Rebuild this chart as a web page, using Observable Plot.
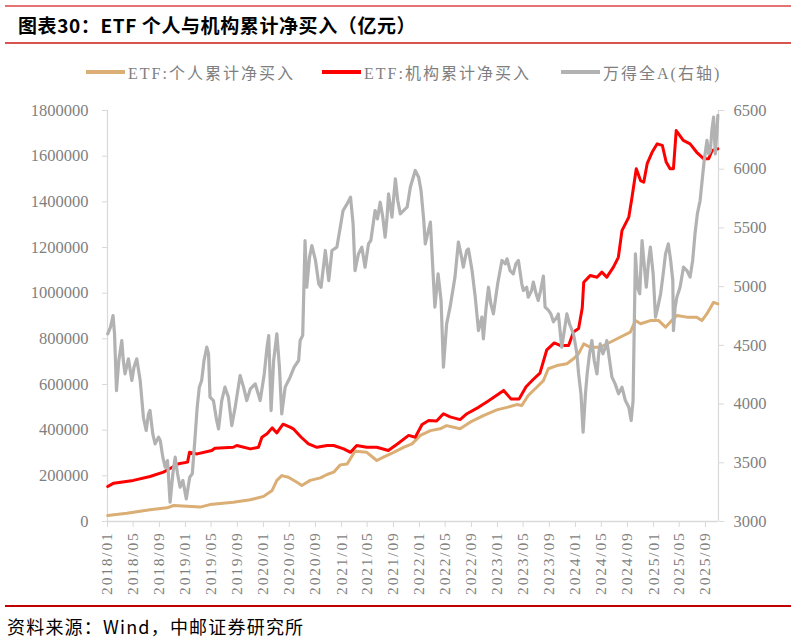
<!DOCTYPE html>
<html>
<head>
<meta charset="utf-8">
<script src="https://cdn.jsdelivr.net/npm/d3@7"></script>
<script src="https://cdn.jsdelivr.net/npm/@observablehq/plot@0.6"></script>
<style>
  html, body { margin: 0; padding: 0; background: #fff; }
  #page { position: relative; width: 796px; height: 641px; overflow: hidden; background: #fff;
          font-family: "Noto Sans CJK SC", sans-serif; }
  .bar { position: absolute; left: 5px; width: 786px; }
  #title { position: absolute; left: 18px; top: 11px; font-size: 19px; font-weight: 700; color: #000;
           line-height: 28px; white-space: nowrap; letter-spacing: 0.6px; }
  .item { position: absolute; top: 61px; height: 22px; display: flex; align-items: center; white-space: nowrap;
          font-family: "Liberation Serif", "Noto Sans CJK SC", serif; font-size: 16px; letter-spacing: 2px; color: #7f7f7f; }
  .sw { display: inline-block; width: 39px; height: 3.5px; margin-right: 3px; }
  #chart { position: absolute; left: 0; top: 90px; }
  #source { position: absolute; left: 7px; top: 612px; font-size: 18px; color: #000; line-height: 28px;
            white-space: nowrap; letter-spacing: 1.2px; }
  g[aria-label="x-axis tick label"] text { letter-spacing: 1.8px; }
</style>
</head>
<body>
<div id="page">
  <div class="bar" style="top:5px;height:1.5px;background:#e57373;"></div>
  <div id="title">图表30：ETF 个人与机构累计净买入（亿元）</div>
  <div class="bar" style="top:42px;height:2px;background:#d9534f;"></div>
  <div id="legend"></div>
  <div id="chart"></div>
  <div class="bar" style="top:604.5px;height:2px;background:#c00000;"></div>
  <div id="source">资料来源：Wind，中邮证券研究所</div>
</div>
<script>
// ETF cumulative net buying by individuals (亿元, left axis)
const personalNet = [
  ["2018-01-02", 26000], ["2018-04-02", 36000], ["2018-07-19", 51000], ["2018-10-06", 60000],
  ["2018-11-07", 70000], ["2019-01-09", 67000], ["2019-03-10", 63000], ["2019-04-26", 74000],
  ["2019-08-13", 84000], ["2019-11-01", 95000], ["2020-01-02", 110000], ["2020-02-11", 136000],
  ["2020-03-04", 180000], ["2020-03-27", 201000], ["2020-04-27", 194000], ["2020-06-06", 172000],
  ["2020-06-29", 158000], ["2020-08-07", 180000], ["2020-09-24", 191000], ["2020-10-25", 206000],
  ["2020-11-25", 216000], ["2020-12-26", 248000], ["2021-01-27", 252000], ["2021-03-05", 308000],
  ["2021-04-29", 303000], ["2021-06-15", 267000], ["2021-07-16", 282000], ["2021-09-02", 303000],
  ["2021-10-18", 325000], ["2021-11-27", 340000], ["2022-01-05", 377000], ["2022-02-21", 398000],
  ["2022-04-07", 406000], ["2022-05-08", 420000], ["2022-07-10", 406000], ["2022-08-26", 435000],
  ["2022-10-27", 464000], ["2022-12-29", 489000], ["2023-02-15", 500000], ["2023-04-02", 512000],
  ["2023-04-25", 508000], ["2023-05-25", 552000], ["2023-07-04", 588000], ["2023-08-04", 617000],
  ["2023-08-27", 669000], ["2023-10-06", 683000], ["2023-11-22", 691000], ["2023-12-23", 713000],
  ["2024-01-16", 735000], ["2024-02-09", 778000], ["2024-03-10", 763000], ["2024-04-26", 763000],
  ["2024-06-12", 785000], ["2024-07-28", 807000], ["2024-09-14", 829000], ["2024-10-08", 880000],
  ["2024-11-01", 866000], ["2024-12-17", 880000], ["2025-01-25", 880000], ["2025-02-26", 851000],
  ["2025-03-27", 880000], ["2025-04-20", 902000], ["2025-06-06", 895000], ["2025-07-22", 895000],
  ["2025-08-15", 880000], ["2025-09-08", 910000], ["2025-10-09", 960000], ["2025-10-29", 953000]
];

// ETF cumulative net buying by institutions (亿元, left axis)
const institutionNet = [
  ["2018-01-02", 153000], ["2018-01-30", 168000], ["2018-05-02", 180000], ["2018-07-19", 197000],
  ["2018-09-20", 216000], ["2018-10-21", 232000], ["2018-11-30", 253000], ["2019-01-11", 260000],
  ["2019-01-20", 303000], ["2019-02-25", 296000], ["2019-05-04", 311000], ["2019-05-19", 321000],
  ["2019-08-13", 325000], ["2019-08-29", 333000], ["2019-11-01", 318000], ["2019-12-09", 325000],
  ["2019-12-25", 369000], ["2020-01-18", 384000], ["2020-02-11", 410000], ["2020-03-04", 388000],
  ["2020-04-02", 426000], ["2020-05-05", 413000], ["2020-05-20", 406000], ["2020-06-26", 369000],
  ["2020-07-30", 340000], ["2020-09-08", 325000], ["2020-10-25", 333000], ["2020-11-25", 333000],
  ["2021-01-11", 318000], ["2021-02-12", 303000], ["2021-03-13", 333000], ["2021-04-29", 325000],
  ["2021-06-15", 325000], ["2021-08-08", 311000], ["2021-09-24", 343000], ["2021-11-11", 377000],
  ["2021-12-12", 369000], ["2022-01-13", 425000], ["2022-02-13", 442000], ["2022-03-22", 440000],
  ["2022-04-23", 472000], ["2022-05-24", 458000], ["2022-07-10", 446000], ["2022-08-11", 472000],
  ["2022-10-04", 500000], ["2022-11-19", 528000], ["2023-01-01", 555000], ["2023-01-30", 574000],
  ["2023-03-05", 537000], ["2023-04-12", 537000], ["2023-05-15", 590000], ["2023-06-17", 622000],
  ["2023-07-19", 650000], ["2023-08-20", 752000], ["2023-09-24", 782000], ["2023-10-21", 771000],
  ["2023-11-30", 771000], ["2023-12-23", 830000], ["2024-01-16", 845000], ["2024-02-02", 935000],
  ["2024-02-09", 1048000], ["2024-03-10", 1077000], ["2024-04-11", 1070000], ["2024-05-04", 1092000],
  ["2024-05-27", 1070000], ["2024-06-27", 1114000], ["2024-07-20", 1157000], ["2024-08-06", 1274000],
  ["2024-09-07", 1333000], ["2024-09-22", 1420000], ["2024-10-12", 1545000], ["2024-11-01", 1493000],
  ["2024-11-16", 1486000], ["2024-12-02", 1567000], ["2024-12-25", 1617000], ["2025-01-18", 1654000],
  ["2025-02-11", 1647000], ["2025-03-01", 1574000], ["2025-03-19", 1545000], ["2025-04-04", 1545000],
  ["2025-04-17", 1712000], ["2025-05-20", 1669000], ["2025-06-21", 1654000], ["2025-07-22", 1617000],
  ["2025-08-23", 1589000], ["2025-09-16", 1589000], ["2025-10-02", 1625000], ["2025-10-29", 1632000]
];

// Wind All A index (right axis)
const windAllA = [
  ["2018-01-02", 4598], ["2018-01-15", 4655], ["2018-01-27", 4754], ["2018-02-03", 4598], ["2018-02-12", 4115],
  ["2018-02-23", 4371], ["2018-03-09", 4541], ["2018-03-16", 4371], ["2018-03-24", 4257], ["2018-04-09", 4385],
  ["2018-04-25", 4201], ["2018-05-05", 4314], ["2018-05-18", 4385], ["2018-06-03", 4201], ["2018-06-18", 3888],
  ["2018-07-01", 3775], ["2018-07-12", 3917], ["2018-07-19", 3945], ["2018-08-01", 3746], ["2018-08-12", 3661],
  ["2018-08-28", 3718], ["2018-09-05", 3690], ["2018-09-17", 3548], ["2018-09-28", 3463], ["2018-10-09", 3519],
  ["2018-10-21", 3164], ["2018-11-03", 3406], ["2018-11-14", 3548], ["2018-11-25", 3406], ["2018-12-07", 3292],
  ["2018-12-20", 3349], ["2019-01-05", 3193], ["2019-01-21", 3377], ["2019-02-02", 3406], ["2019-02-14", 3690],
  ["2019-02-25", 3974], ["2019-03-07", 4144], ["2019-03-18", 4201], ["2019-03-29", 4371], ["2019-04-11", 4485],
  ["2019-04-19", 4428], ["2019-04-26", 4059], ["2019-05-12", 4030], ["2019-05-27", 3860], ["2019-06-05", 3789],
  ["2019-06-20", 4030], ["2019-07-05", 4144], ["2019-07-21", 4059], ["2019-08-06", 3817], ["2019-08-22", 3974],
  ["2019-09-14", 4243], ["2019-09-30", 4144], ["2019-10-15", 4030], ["2019-11-01", 4130], ["2019-11-24", 4172],
  ["2019-12-17", 4030], ["2020-01-05", 4257], ["2020-01-18", 4485], ["2020-01-26", 4584], ["2020-02-06", 3945],
  ["2020-02-18", 4371], ["2020-03-04", 4598], ["2020-03-16", 4314], ["2020-03-27", 3917], ["2020-04-12", 4144],
  ["2020-05-05", 4229], ["2020-05-24", 4314], ["2020-06-14", 4371], ["2020-06-21", 4541], ["2020-07-03", 4584],
  ["2020-07-14", 5393], ["2020-07-22", 4995], ["2020-08-04", 5251], ["2020-08-15", 5350], ["2020-09-01", 5223],
  ["2020-09-16", 5024], ["2020-09-27", 4995], ["2020-10-17", 5308], ["2020-11-02", 5052], ["2020-11-17", 5308],
  ["2020-12-10", 5336], ["2020-12-26", 5506], ["2021-01-08", 5648], ["2021-01-27", 5705], ["2021-02-12", 5762],
  ["2021-02-24", 5535], ["2021-03-05", 5137], ["2021-03-21", 5279], ["2021-04-06", 5336], ["2021-04-21", 5166],
  ["2021-05-07", 5364], ["2021-05-18", 5393], ["2021-06-07", 5648], ["2021-06-18", 5577], ["2021-07-01", 5719],
  ["2021-07-13", 5592], ["2021-07-24", 5421], ["2021-08-02", 5592], ["2021-08-09", 5790], ["2021-08-25", 5592],
  ["2021-09-10", 5918], ["2021-09-21", 5734], ["2021-10-03", 5620], ["2021-10-18", 5648], ["2021-11-04", 5677],
  ["2021-11-19", 5847], ["2021-12-12", 5989], ["2021-12-28", 5932], ["2022-01-08", 5819], ["2022-01-21", 5563],
  ["2022-01-28", 5364], ["2022-02-21", 5549], ["2022-03-04", 5166], ["2022-03-14", 4825], ["2022-03-29", 5109],
  ["2022-04-12", 4882], ["2022-04-23", 4314], ["2022-05-08", 4683], ["2022-05-24", 4825], ["2022-06-16", 5081],
  ["2022-07-02", 5379], ["2022-07-17", 5251], ["2022-07-25", 5166], ["2022-08-10", 5308], ["2022-08-18", 5322],
  ["2022-09-04", 5137], ["2022-09-19", 4910], ["2022-10-04", 4626], ["2022-10-20", 4740], ["2022-10-27", 4555],
  ["2022-11-09", 4825], ["2022-11-20", 4995], ["2022-12-01", 4853], ["2022-12-13", 4768], ["2023-01-02", 5024],
  ["2023-01-22", 5223], ["2023-02-07", 5194], ["2023-02-15", 5237], ["2023-03-01", 5137], ["2023-03-16", 5109],
  ["2023-03-28", 5194], ["2023-04-09", 5223], ["2023-04-25", 5024], ["2023-05-02", 4967], ["2023-05-18", 4995],
  ["2023-05-25", 4910], ["2023-06-10", 4967], ["2023-06-18", 5038], ["2023-07-01", 4939], ["2023-07-11", 4882],
  ["2023-07-22", 4967], ["2023-08-04", 5090], ["2023-08-12", 4825], ["2023-08-27", 4800], ["2023-09-08", 4768],
  ["2023-09-20", 4700], ["2023-10-06", 4740], ["2023-10-13", 4768], ["2023-10-29", 4484], ["2023-11-22", 4768],
  ["2023-12-05", 4680], ["2023-12-23", 4598], ["2024-01-08", 4428], ["2024-01-16", 4257], ["2024-01-27", 4087],
  ["2024-02-06", 3760], ["2024-02-17", 4087], ["2024-02-25", 4257], ["2024-03-07", 4428], ["2024-03-18", 4541],
  ["2024-03-29", 4371], ["2024-04-11", 4257], ["2024-04-19", 4428], ["2024-04-26", 4513], ["2024-05-09", 4428],
  ["2024-05-20", 4484], ["2024-05-27", 4541], ["2024-06-09", 4371], ["2024-06-20", 4229], ["2024-07-05", 4172],
  ["2024-07-21", 4087], ["2024-08-06", 4144], ["2024-08-22", 4030], ["2024-09-07", 3973], ["2024-09-18", 3860],
  ["2024-09-27", 4030], ["2024-10-08", 5279], ["2024-10-18", 4995], ["2024-10-28", 4939], ["2024-11-08", 5393],
  ["2024-11-19", 5166], ["2024-11-28", 4995], ["2024-12-09", 5223], ["2024-12-17", 5336], ["2024-12-30", 5109],
  ["2025-01-10", 4740], ["2025-01-21", 4825], ["2025-02-03", 4939], ["2025-02-15", 5109], ["2025-02-26", 5279],
  ["2025-03-11", 5364], ["2025-03-22", 5223], ["2025-04-01", 5052], ["2025-04-04", 4626], ["2025-04-12", 4825],
  ["2025-04-20", 4910], ["2025-05-05", 4995], ["2025-05-21", 5166], ["2025-06-06", 5137], ["2025-06-21", 5081],
  ["2025-07-03", 5223], ["2025-07-14", 5450], ["2025-07-25", 5620], ["2025-08-07", 5734], ["2025-08-18", 5932],
  ["2025-08-26", 6074], ["2025-09-08", 6245], ["2025-09-16", 6131], ["2025-09-24", 6159], ["2025-10-01", 6330],
  ["2025-10-09", 6443], ["2025-10-17", 6131], ["2025-10-25", 6330], ["2025-10-29", 6458]
];

const seriesNames = ["ETF:个人累计净买入", "ETF:机构累计净买入", "万得全A(右轴)"];
const seriesColors = ["#DAAE74", "#FF0000", "#B2B2B2"];
const leftTicks = [0, 200000, 400000, 600000, 800000, 1000000, 1200000, 1400000, 1600000, 1800000];
const rightTicks = [3000, 3500, 4000, 4500, 5000, 5500, 6000, 6500];
const xTickLabels = ["2018/01", "2018/05", "2018/09", "2019/01", "2019/05", "2019/09", "2020/01", "2020/05",
  "2020/09", "2021/01", "2021/05", "2021/09", "2022/01", "2022/05", "2022/09", "2023/01", "2023/05",
  "2023/09", "2024/01", "2024/05", "2024/09", "2025/01", "2025/05", "2025/09"];

const parseDay = d3.utcParse("%Y-%m-%d");
const parseMonth = d3.utcParse("%Y/%m");
const rows = pairs => pairs.map(([d, v]) => ({date: parseDay(d), value: v}));

// Right axis values are mapped onto the left axis range
const [L0, L1] = [leftTicks[0], leftTicks[leftTicks.length - 1]];
const [R0, R1] = [rightTicks[0], rightTicks[rightTicks.length - 1]];
const toLeft = v => L0 + (v - R0) / (R1 - R0) * (L1 - L0);
const fromLeft = v => R0 + (v - L0) / (L1 - L0) * (R1 - R0);

const xDomain = [parseDay("2018-01-01"), parseDay("2025-11-01")];
const xTicks = xTickLabels.map(parseMonth);
const axisGray = "#d9d9d9";

// Legend
const legend = document.getElementById("legend");
const legendLeft = [86, 322, 561];
seriesNames.forEach((name, i) => {
  const item = document.createElement("div");
  item.className = "item";
  item.style.left = legendLeft[i] + "px";
  const sw = document.createElement("span");
  sw.className = "sw";
  sw.style.background = seriesColors[i];
  item.appendChild(sw);
  item.appendChild(document.createTextNode(name));
  legend.appendChild(item);
});

const chart = Plot.plot({
  width: 796,
  height: 515,
  marginTop: 20,
  marginBottom: 84,
  marginLeft: 107,
  marginRight: 78,
  style: {fontFamily: '"Liberation Serif", serif', fontSize: "16.5px", color: "#7f7f7f", background: "transparent", overflow: "visible"},
  x: {type: "utc", domain: xDomain, label: null},
  y: {domain: [L0, L1], label: null},
  marks: [
    Plot.ruleX(xDomain, {stroke: axisGray, strokeWidth: 1.2}),
    Plot.ruleY([L0], {stroke: axisGray, strokeWidth: 1.3}),
    Plot.axisY(leftTicks, {anchor: "left", tickSize: 5, tickPadding: 14, stroke: axisGray, fill: "#7f7f7f",
      tickFormat: d => String(d), label: null}),
    Plot.axisY(rightTicks.map(toLeft), {anchor: "right", tickSize: 5, tickPadding: 10, stroke: axisGray, fill: "#7f7f7f",
      tickFormat: d => String(Math.round(fromLeft(d))), label: null}),
    Plot.axisX(xTicks, {anchor: "bottom", tickSize: 6, tickPadding: 4, tickRotate: -90, stroke: axisGray, fill: "#7f7f7f",
      fontSize: 15.5, tickFormat: d3.utcFormat("%Y/%m"), label: null}),
    Plot.lineY(rows(personalNet), {x: "date", y: "value", stroke: seriesColors[0], strokeWidth: 3}),
    Plot.lineY(rows(institutionNet), {x: "date", y: "value", stroke: seriesColors[1], strokeWidth: 3}),
    Plot.lineY(rows(windAllA), {x: "date", y: d => toLeft(d.value), stroke: seriesColors[2], strokeWidth: 3.2})
  ]
});
document.getElementById("chart").appendChild(chart);
</script>
</body>
</html>
